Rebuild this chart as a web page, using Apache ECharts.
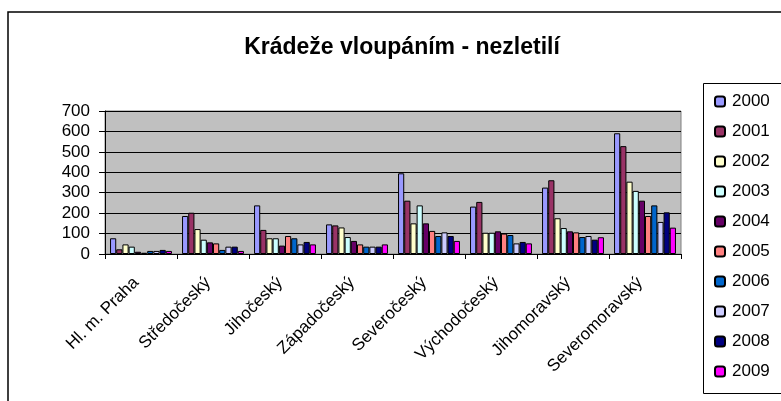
<!DOCTYPE html>
<html>
<head>
<meta charset="utf-8">
<script src="https://cdn.jsdelivr.net/npm/echarts@6/dist/echarts.min.js"></script>
<style>
  html, body { margin: 0; padding: 0; background: #fff; }
  #chart { width: 781px; height: 401px; }
</style>
</head>
<body>
<div id="chart"></div>
<script>
// kraje
const regions = ['Hl. m. Praha', 'Středočeský', 'Jihočeský', 'Západočeský', 'Severočeský', 'Východočeský', 'Jihomoravský', 'Severomoravský']
const years = ['2000', '2001', '2002', '2003', '2004', '2005', '2006', '2007', '2008', '2009']
const yTicks = [0, 100, 200, 300, 400, 500, 600, 700]

// hodnoty po letech (pořadí krajů jako v regions)
const v2000 = [77, 186, 238, 145, 395, 232, 325, 591]
const v2001 = [23, 202, 118, 140, 261, 255, 361, 528]
const v2002 = [47, 122, 77, 130, 150, 104, 175, 354]
const v2003 = [36, 70, 77, 83, 238, 104, 127, 309]
const v2004 = [11, 57, 41, 64, 150, 111, 111, 261]
const v2005 = [6, 52, 88, 47, 113, 100, 106, 186]
const v2006 = [15, 20, 77, 36, 88, 93, 83, 238]
const v2007 = [15, 36, 47, 36, 106, 52, 88, 157]
const v2008 = [20, 36, 59, 36, 88, 59, 70, 204]
const v2009 = [15, 15, 47, 47, 64, 52, 82, 129]

const values = [v2000, v2001, v2002, v2003, v2004, v2005, v2006, v2007, v2008, v2009]
const colors = ['#9999FF', '#993366', '#FFFFCC', '#CCFFFF', '#660066', '#FF8080', '#0066CC', '#CCCCFF', '#000080', '#FF00FF']

const font = '"Liberation Sans", Arial, sans-serif'

const chart = echarts.init(document.getElementById('chart'), null, { renderer: 'canvas' })

chart.setOption({
  animation: false,
  backgroundColor: '#fff',
  title: {
    text: 'Krádeže vloupáním - nezletilí',
    left: 397,
    textAlign: 'center',
    top: 31,
    textStyle: { fontFamily: font, fontSize: 23, fontWeight: 'bold', color: '#000' }
  },
  graphic: [
    // okraj celého grafu
    { type: 'rect', shape: { x: 8, y: 12, width: 800, height: 420 }, style: { fill: 'none', stroke: '#000', lineWidth: 1.5 }, silent: true },
    // rámeček legendy
    { type: 'rect', shape: { x: 703.5, y: 83.5, width: 100, height: 310 }, style: { fill: 'none', stroke: '#000', lineWidth: 1 }, silent: true }
  ],
  legend: {
    orient: 'vertical',
    left: 714,
    top: 93,
    itemWidth: 10,
    itemHeight: 10,
    itemGap: 13,
    padding: 0,
    textStyle: { fontFamily: font, fontSize: 17, color: '#000', padding: [0, 0, 0, 2] },
    data: years
  },
  grid: {
    left: 105, right: 100, top: 111, bottom: 147,
    show: true,
    backgroundColor: '#C0C0C0',
    borderColor: '#808080',
    borderWidth: 1
  },
  xAxis: {
    type: 'category',
    data: regions,
    axisLine: { lineStyle: { color: '#000', width: 1 } },
    axisTick: { show: true, length: 5, lineStyle: { color: '#000' } },
    axisLabel: { interval: 0, rotate: 45, margin: 21, padding: [0, 7, 0, 0], fontFamily: font, fontSize: 17, color: '#000' }
  },
  yAxis: {
    type: 'value',
    min: 0,
    max: 700,
    interval: 100,
    axisLine: { show: true, lineStyle: { color: '#000', width: 1 } },
    axisTick: { show: true, length: 6, lineStyle: { color: '#000' } },
    axisLabel: {
      margin: 15, fontFamily: font, fontSize: 17, color: '#000',
      formatter: v => yTicks.includes(v) ? String(v) : ''
    },
    splitLine: { lineStyle: { color: '#000', width: 1 } }
  },
  series: years.map((y, i) => ({
    name: y,
    type: 'bar',
    data: values[i],
    barGap: '0%',
    barCategoryGap: '14%',
    itemStyle: { color: colors[i], borderColor: '#000', borderWidth: 1 }
  }))
})
</script>
</body>
</html>
